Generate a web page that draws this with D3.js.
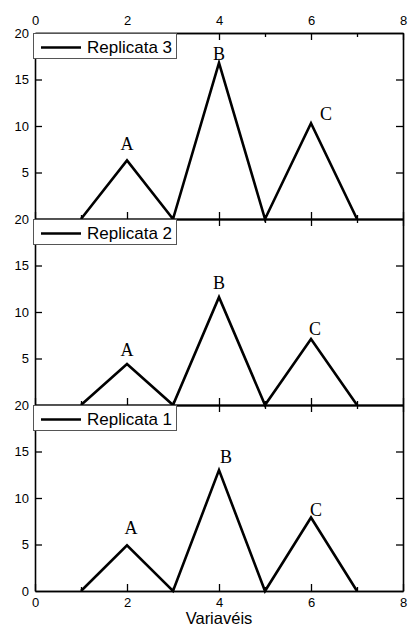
<!DOCTYPE html>
<html>
<head>
<meta charset="utf-8">
<script src="https://cdn.jsdelivr.net/npm/d3@7"></script>
<style>
  html, body { margin: 0; padding: 0; background: #fff; }
  svg { display: block; font-family: Arial, "Liberation Sans", sans-serif; }
</style>
</head>
<body>
<div id="chart"></div>
<script>
// values
const xValues = [1, 2, 3, 4, 5, 6, 7];
const replicata3 = [0, 6.3, 0, 16.8, 0, 10.3, 0];
const replicata2 = [0, 4.4, 0, 11.6, 0, 7.1, 0];
const replicata1 = [0, 4.9, 0, 13.0, 0, 7.9, 0];
const panelNames = ["Replicata 3", "Replicata 2", "Replicata 1"];
const peakNames = ["A", "B", "C"];
const peakX = [2, 4, 6];
const xMajorTicks = [0, 2, 4, 6, 8];
const xMinorTicks = [1, 3, 5, 7];
const yTicks = [0, 5, 10, 15, 20];
const xTitle = "Variavéis";

const series = [replicata3, replicata2, replicata1];

const W = 409, H = 627;
const left = 35, right = 403, top0 = 33, panelH = 186;

// label nudges (px) per panel, per peak: [dx, dy above peak]
const labelNudge = [
  [[0, 17], [0, 9], [15, 10]],
  [[0, 14], [0, 14], [4, 10]],
  [[4, 18], [7, 13], [5, 8]]
];

const svg = d3.select("#chart").append("svg")
  .attr("width", W).attr("height", H);

const x = d3.scaleLinear().domain([0, 8]).range([left, right]);

series.forEach((vals, i) => {
  const pTop = top0 + i * panelH;
  const pBot = pTop + panelH;
  const y = d3.scaleLinear().domain([0, 20]).range([pBot, pTop]);
  const g = svg.append("g");

  const styleAxis = sel => {
    sel.selectAll(".domain").attr("stroke", "#000").attr("stroke-width", 1.6);
    sel.selectAll(".tick line").attr("stroke", "#000").attr("stroke-width", 1.3);
    sel.selectAll("text").attr("font-size", 13).attr("fill", "#000")
      .attr("font-family", "Arial, 'Liberation Sans', sans-serif");
  };

  // top axis
  g.append("g").attr("transform", `translate(0,${pTop})`)
    .call(d3.axisTop(x).tickValues(xMajorTicks).tickSize(-7).tickSizeOuter(0).tickPadding(8)
      .tickFormat(i === 0 ? d3.format("d") : () => ""))
    .call(styleAxis);
  g.append("g").attr("transform", `translate(0,${pTop})`)
    .call(d3.axisTop(x).tickValues(xMinorTicks).tickSize(-4).tickSizeOuter(0).tickFormat(() => ""))
    .call(styleAxis);

  // bottom axis
  g.append("g").attr("transform", `translate(0,${pBot})`)
    .call(d3.axisBottom(x).tickValues(xMajorTicks).tickSize(-7).tickSizeOuter(0).tickPadding(7)
      .tickFormat(i === 2 ? d3.format("d") : () => ""))
    .call(styleAxis);
  g.append("g").attr("transform", `translate(0,${pBot})`)
    .call(d3.axisBottom(x).tickValues(xMinorTicks).tickSize(-4).tickSizeOuter(0).tickFormat(() => ""))
    .call(styleAxis);

  // left axis
  const leftTicks = i === 2 ? yTicks : yTicks.filter(v => v !== 0);
  g.append("g").attr("transform", `translate(${left},0)`)
    .call(d3.axisLeft(y).tickValues(leftTicks).tickSize(-7).tickSizeOuter(0).tickPadding(6))
    .call(styleAxis)
    .call(a => a.selectAll(".tick").filter(d => d === 0 || d === 20).select("line").remove());

  // right axis
  g.append("g").attr("transform", `translate(${right},0)`)
    .call(d3.axisRight(y).tickValues([5, 10, 15]).tickSize(-7).tickSizeOuter(0).tickFormat(() => ""))
    .call(styleAxis);

  // data line
  const line = d3.line().x((d, k) => x(xValues[k])).y(d => y(d));
  g.append("path").datum(vals)
    .attr("fill", "none").attr("stroke", "#000")
    .attr("stroke-width", 2.6).attr("stroke-linejoin", "miter")
    .attr("d", line);

  // peak labels
  peakX.forEach((px, k) => {
    const idx = xValues.indexOf(px);
    const [dx, dy] = labelNudge[i][k];
    g.append("text")
      .attr("x", x(px) + dx)
      .attr("y", y(vals[idx]) - dy)
      .attr("dy", "0.35em")
      .attr("text-anchor", "middle")
      .attr("font-family", "'Liberation Serif', 'Times New Roman', serif")
      .attr("font-size", 18)
      .text(peakNames[k]);
  });

  // legend
  const lg = svg.append("g").attr("transform", `translate(33,${pTop})`);
  lg.append("rect").attr("x", 0.5).attr("y", 0.5).attr("width", 143).attr("height", 25)
    .attr("fill", "#fff").attr("stroke", "#555").attr("stroke-width", 1);
  lg.append("line").attr("x1", 8).attr("x2", 48).attr("y1", 14.5).attr("y2", 14.5)
    .attr("stroke", "#000").attr("stroke-width", 2.4);
  lg.append("text").attr("x", 54).attr("y", 19.5)
    .attr("font-size", 17).attr("fill", "#000")
    .text(panelNames[i]);
});

svg.append("text")
  .attr("x", x(4)).attr("y", 624)
  .attr("text-anchor", "middle")
  .attr("font-size", 16.5)
  .text(xTitle);
</script>
</body>
</html>
